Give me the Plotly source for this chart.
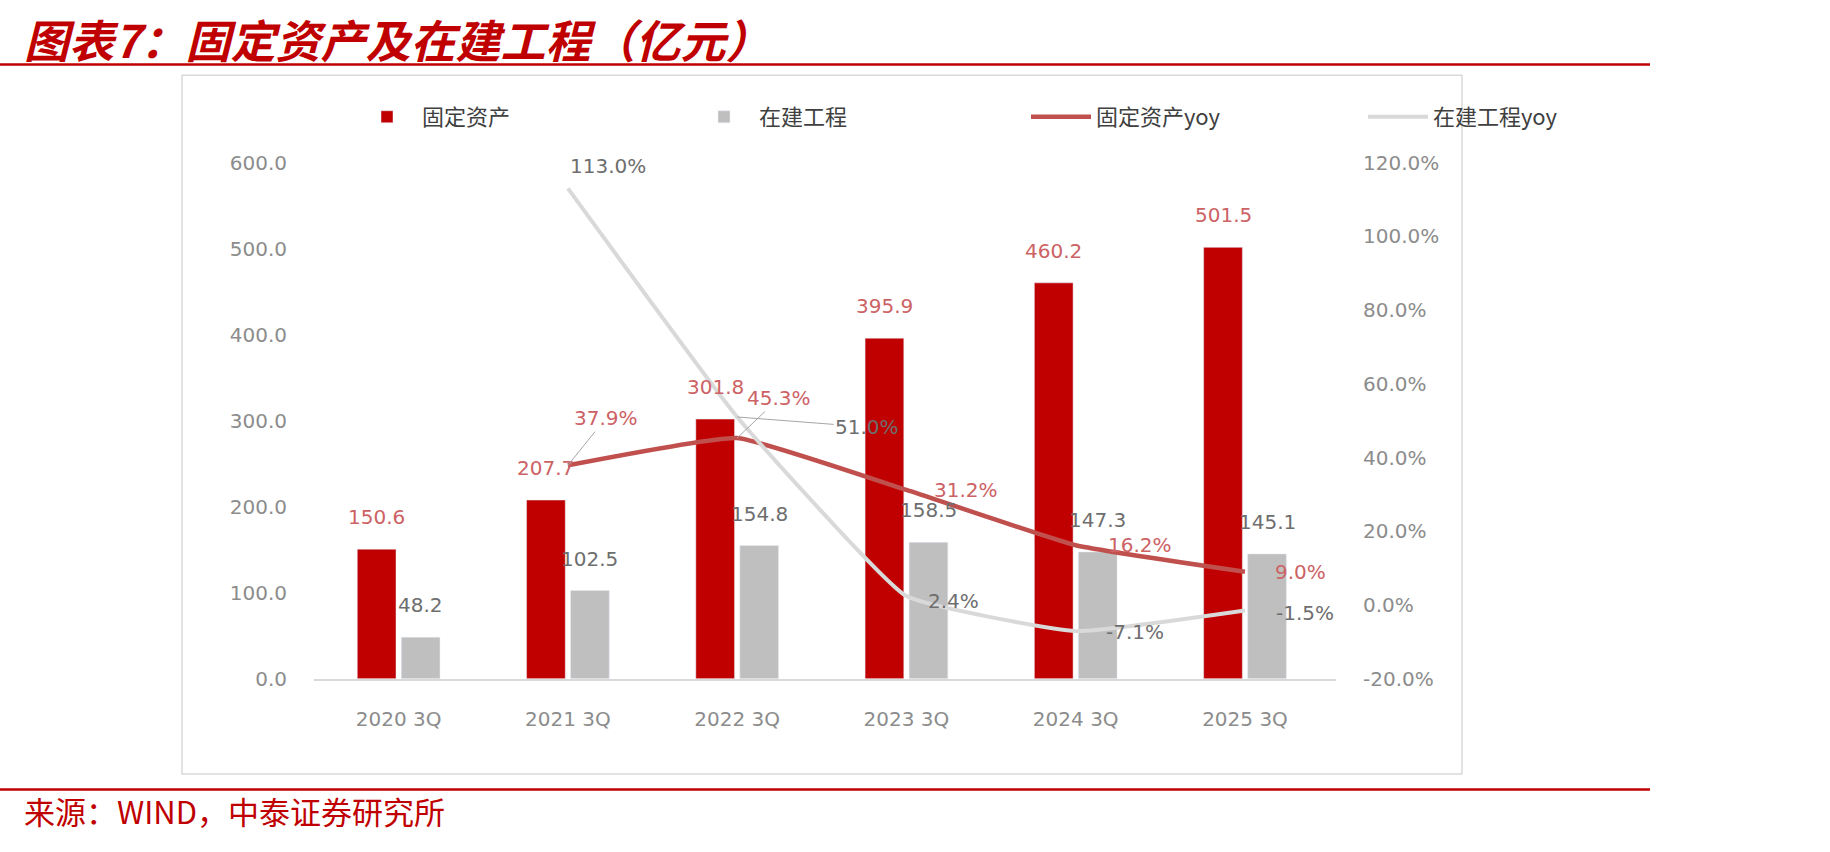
import plotly.graph_objects as go

categories = ["2020 3Q", "2021 3Q", "2022 3Q", "2023 3Q", "2024 3Q", "2025 3Q"]
fixed_assets = [150.6, 207.7, 301.8, 395.9, 460.2, 501.5]
construction = [48.2, 102.5, 154.8, 158.5, 147.3, 145.1]
fixed_yoy = [None, 37.9, 45.3, 31.2, 16.2, 9.0]
constr_yoy = [None, 113.0, 51.0, 2.4, -7.1, -1.5]

series_names = ["固定资产", "在建工程", "固定资产yoy", "在建工程yoy"]
left_ticks = [0, 100, 200, 300, 400, 500, 600]
right_ticks = [-20, 0, 20, 40, 60, 80, 100, 120]

RED_BAR = "#C00000"
GRAY_BAR = "#BFBFBF"
RED_LINE = "#C0504D"
GRAY_LINE = "#D9D9D9"
RED_LABEL = "#CD6265"
GRAY_LABEL = "#6E6E6E"
TICK = "#8C8C8C"
NUMFONT = "DejaVu Sans"
CJK = "Noto Sans CJK SC"
LBL = 20

fig = go.Figure()
fig.add_trace(go.Bar(x=categories, y=fixed_assets, name=series_names[0], marker_color=RED_BAR))
fig.add_trace(go.Bar(x=categories, y=construction, name=series_names[1], marker_color=GRAY_BAR))
fig.add_trace(go.Scatter(
    x=categories, y=fixed_yoy, name=series_names[2], yaxis="y2", mode="lines",
    line=dict(color=RED_LINE, width=4.5, shape="spline", smoothing=0.35),
))
fig.add_trace(go.Scatter(
    x=categories, y=constr_yoy, name=series_names[3], yaxis="y2", mode="lines",
    line=dict(color=GRAY_LINE, width=4, shape="spline", smoothing=0.35),
))

# bar value labels (offset half a bar slot left/right of the category centre)
for vals, color, xs in ((fixed_assets, RED_LABEL, -22), (construction, GRAY_LABEL, 22)):
    for c, v in zip(categories, vals):
        fig.add_annotation(x=c, y=v, xref="x", yref="y", text=f"{v:.1f}", showarrow=False,
                           xshift=xs, yshift=18, yanchor="bottom",
                           font=dict(color=color, size=LBL, family=NUMFONT))

# line data labels: shift = (xshift, yshift) with left anchor; arrow = (ax, ay) leader line
fixed_lab = {
    1: dict(arrow=(38, -47)),
    2: dict(arrow=(42, -40)),
    3: dict(shift=(26, 0)),
    4: dict(shift=(30, 0)),
    5: dict(shift=(28, 0)),
}
constr_lab = {
    1: dict(shift=(0, 22)),
    2: dict(arrow=(130, 10)),
    3: dict(shift=(20, -5)),
    4: dict(shift=(28, -1)),
    5: dict(shift=(29, -3)),
}

def add_labels(values, spec, color):
    for i, v in enumerate(values):
        if v is None or i not in spec:
            continue
        s = spec[i]
        common = dict(x=categories[i], y=v, xref="x", yref="y2",
                      text=f"{v:.1f}%", font=dict(color=color, size=LBL, family=NUMFONT))
        if "arrow" in s:
            ax, ay = s["arrow"]
            fig.add_annotation(**common, showarrow=True, arrowhead=0, arrowwidth=1,
                               arrowcolor="#A6A6A6", ax=ax, ay=ay, standoff=0)
        else:
            xs, ys = s["shift"]
            fig.add_annotation(**common, showarrow=False, xanchor="left",
                               xshift=xs, yshift=ys)

add_labels(fixed_yoy, fixed_lab, RED_LABEL)
add_labels(constr_yoy, constr_lab, GRAY_LABEL)

# title, source and decoration
fig.add_annotation(x=22 / 1830, y=1 - 27 / 852, xref="paper", yref="paper", xanchor="left",
                   yanchor="middle", showarrow=False,
                   text="<b><i>图表7：固定资产及在建工程（亿元）</i></b>",
                   font=dict(family=CJK, size=45, color=RED_BAR))
fig.add_annotation(x=22 / 1830, y=1 - 822 / 852, xref="paper", yref="paper", xanchor="left",
                   yanchor="middle", showarrow=False,
                   text="来源：WIND，中泰证券研究所",
                   font=dict(family=CJK, size=31, color=RED_BAR))
fig.add_shape(type="line", xref="paper", yref="paper", x0=0, x1=1650 / 1830,
              y0=1 - 54 / 852, y1=1 - 54 / 852, line=dict(color=RED_BAR, width=2.5))
fig.add_shape(type="line", xref="paper", yref="paper", x0=0, x1=1650 / 1830,
              y0=1 - 800 / 852, y1=1 - 800 / 852, line=dict(color=RED_BAR, width=2.5))
fig.add_shape(type="rect", xref="paper", yref="paper", x0=182 / 1830, x1=1462 / 1830,
              y0=1 - 784 / 852, y1=1 - 65 / 852, line=dict(color="#D9D9D9", width=1.5),
              layer="below")

fig.update_layout(
    width=1830, height=852, margin=dict(l=0, r=0, t=0, b=0),
    paper_bgcolor="white", plot_bgcolor="white",
    barmode="group", bargap=0.48, bargroupgap=0.12,
    showlegend=True,
    legend=dict(orientation="h", x=352 / 1830, y=1 - 108 / 852, xanchor="left", yanchor="middle",
                entrywidth=262, entrywidthmode="pixels", itemwidth=60,
                font=dict(family=CJK, size=22, color="#404040"), bgcolor="rgba(0,0,0,0)"),
    xaxis=dict(domain=[314 / 1830, 1336 / 1830], type="category", showgrid=False,
               showline=True, linecolor="#D9D9D9", linewidth=1.5, ticks="",
               tickfont=dict(family=NUMFONT, size=20, color=TICK), ticklabelstandoff=22,
               zeroline=False),
    yaxis=dict(domain=[1 - 686 / 852, 1 - 155 / 852], range=[0, 600], tickvals=left_ticks,
               ticktext=[f"{v:.1f}" for v in left_ticks],
               showgrid=False, zeroline=False, showline=False, ticks="",
               tickfont=dict(family=NUMFONT, size=20, color=TICK), ticklabelstandoff=26),
    yaxis2=dict(overlaying="y", side="right", range=[-20, 120], tickvals=right_ticks,
                ticktext=[f"{v:.1f}%" for v in right_ticks],
                showgrid=False, zeroline=False, showline=False, ticks="",
                tickfont=dict(family=NUMFONT, size=20, color=TICK), ticklabelstandoff=26),
)

fig.write_html("out.html")
